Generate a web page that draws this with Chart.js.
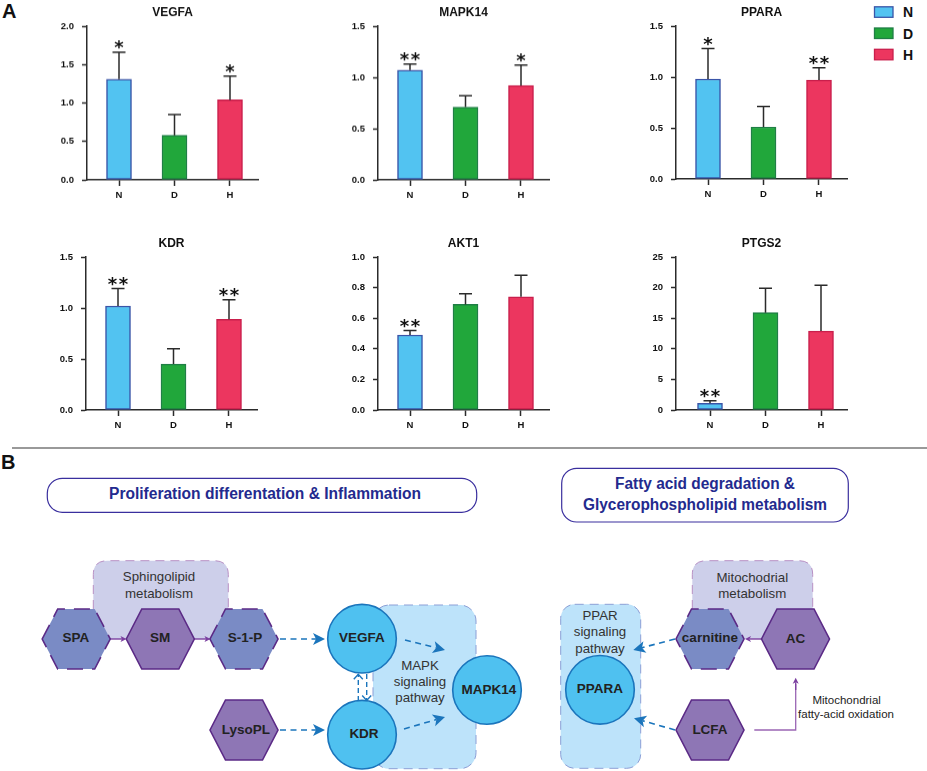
<!DOCTYPE html>
<html>
<head>
<meta charset="utf-8">
<script src="https://cdn.jsdelivr.net/npm/chart.js@4"></script>
<style>
html,body{margin:0;padding:0;background:#fff;}
#page{position:relative;width:927px;height:771px;overflow:hidden;font-family:"Liberation Sans",Arial,sans-serif;}
#page canvas{position:absolute;}
#diagram{position:absolute;left:0;top:0;}
</style>
</head>
<body>
<div id="page"><svg id="diagram" width="927" height="771" viewBox="0 0 927 771" xmlns="http://www.w3.org/2000/svg"></svg></div>
<script>
// ---- Data ----
const categories = ['N', 'D', 'H'];
const groupFill = ['#52C3F1', '#21A73B', '#EC365F'];
const groupEdge = ['#3A55A8', '#1F7F45', '#C91F4C'];

const panelNames = ['VEGFA', 'MAPK14', 'PPARA', 'KDR', 'AKT1', 'PTGS2'];

const vegfaValues = [1.31, 0.58, 1.04];
const vegfaTops   = [1.66, 0.85, 1.35];
const vegfaStars  = ['*', '', '*'];

const mapk14Values = [1.07, 0.71, 0.92];
const mapk14Tops   = [1.13, 0.82, 1.12];
const mapk14Stars  = ['**', '', '*'];

const pparaValues = [0.98, 0.51, 0.97];
const pparaTops   = [1.28, 0.71, 1.09];
const pparaStars  = ['*', '', '**'];

const kdrValues = [1.02, 0.45, 0.89];
const kdrTops   = [1.19, 0.60, 1.08];
const kdrStars  = ['**', '', '**'];

const akt1Values = [0.49, 0.69, 0.74];
const akt1Tops   = [0.52, 0.76, 0.88];
const akt1Stars  = ['**', '', ''];

const ptgs2Values = [1.1, 15.9, 12.9];
const ptgs2Tops   = [1.5, 19.9, 20.4];
const ptgs2Stars  = ['**', '', ''];

const yMaxes = [2.0, 1.5, 1.5, 1.5, 1.0, 25];
const ySteps = [0.5, 0.5, 0.5, 0.5, 0.2, 5];
const yDigits = [1, 1, 1, 1, 1, 0];

// ---- Panel layout (pixels on the page) ----
const axisLeft = [86.5, 378.3, 675.7, 86, 378.3, 676];
const axisTop  = [26, 26, 25.5, 256.5, 256.7, 256.7];
const firstBarOffset = [32, 32, 32, 32, 32, 34];
const barSpacing = 55.5;
const AXIS_W = 50, TITLE_H = 26, XAXIS_H = 31, PLOT_W = 171, PLOT_H = 153.7, RIGHT_PAD = 53;

const allValues = [vegfaValues, mapk14Values, pparaValues, kdrValues, akt1Values, ptgs2Values];
const allTops   = [vegfaTops, mapk14Tops, pparaTops, kdrTops, akt1Tops, ptgs2Tops];
const allStars  = [vegfaStars, mapk14Stars, pparaStars, kdrStars, akt1Stars, ptgs2Stars];

const errorBarPlugin = {
  id: 'errorBars',
  afterDatasetsDraw(chart, args, opts) {
    const { ctx, scales: { x, y } } = chart;
    ctx.save();
    opts.tops.forEach((top, i) => {
      const px = x.getPixelForValue(i);
      const py0 = y.getPixelForValue(opts.values[i]);
      const py1 = y.getPixelForValue(top);
      ctx.strokeStyle = '#2b2b2b';
      ctx.lineWidth = 1.5;
      ctx.beginPath();
      ctx.moveTo(px, py0); ctx.lineTo(px, py1);
      ctx.moveTo(px - 6.5, py1); ctx.lineTo(px + 6.5, py1);
      ctx.stroke();
      const marks = opts.stars[i];
      ctx.fillStyle = '#111';
      ctx.font = 'bold 18px "DejaVu Sans"';
      ctx.textAlign = 'center';
      ctx.textBaseline = 'alphabetic';
      for (let k = 0; k < marks.length; k++) {
        const dx = (k - (marks.length - 1) / 2) * 11;
        ctx.fillText(marks[k], px + dx, py1 + 1.2);
      }
    });
    ctx.restore();
  }
};

panelNames.forEach((name, p) => {
  const canvas = document.createElement('canvas');
  const w = AXIS_W + PLOT_W + RIGHT_PAD, h = TITLE_H + PLOT_H + XAXIS_H;
  canvas.width = w; canvas.height = h;
  canvas.style.left = (axisLeft[p] - AXIS_W) + 'px';
  canvas.style.top = (axisTop[p] - TITLE_H) + 'px';
  canvas.style.width = w + 'px';
  canvas.style.height = h + 'px';
  document.getElementById('page').appendChild(canvas);
  const xMin = -firstBarOffset[p] / barSpacing;
  new Chart(canvas, {
    type: 'bar',
    data: {
      datasets: [{
        label: name,
        data: allValues[p].map((v, i) => ({ x: i, y: v })),
        backgroundColor: groupFill,
        borderColor: groupEdge,
        borderWidth: 1.5,
        borderSkipped: false,
        barThickness: 25
      }]
    },
    options: {
      responsive: false,
      animation: false,
      devicePixelRatio: 1,
      layout: { padding: { left: 0, right: RIGHT_PAD, top: 0, bottom: 0 } },
      plugins: {
        legend: { display: false },
        tooltip: { enabled: false },
        title: {
          display: true, text: name, color: '#111', fullSize: false,
          font: { family: '"Liberation Sans"', size: 12, weight: 'bold', lineHeight: 1 },
          padding: { top: 7, bottom: 7 }
        },
        errorBars: { values: allValues[p], tops: allTops[p], stars: allStars[p] }
      },
      scales: {
        x: {
          type: 'linear', offset: false,
          min: xMin, max: xMin + PLOT_W / barSpacing,
          afterFit(s) { s.height = XAXIS_H; },
          afterBuildTicks(s) { s.ticks = categories.map((c, i) => ({ value: i })); },
          grid: { drawOnChartArea: false, offset: false, drawTicks: true, tickLength: 6, tickColor: '#2b2b2b', tickWidth: 1.5 },
          border: { color: '#2b2b2b', width: 1.5 },
          ticks: {
            autoSkip: false, maxRotation: 0, minRotation: 0, padding: 4, color: '#111',
            font: { family: '"Liberation Sans"', size: 9.5, weight: 'bold' },
            callback: v => categories[v]
          }
        },
        y: {
          min: 0, max: yMaxes[p],
          afterFit(s) { s.width = AXIS_W; },
          grid: { drawOnChartArea: false, drawTicks: true, tickLength: 5, tickColor: '#2b2b2b', tickWidth: 1.5 },
          border: { color: '#2b2b2b', width: 1.5 },
          ticks: {
            stepSize: ySteps[p], padding: 8, color: '#111',
            font: { family: '"Liberation Sans"', size: 9.5, weight: 'bold' },
            callback: v => v.toFixed(yDigits[p])
          }
        }
      }
    },
    plugins: [errorBarPlugin]
  });
});

// ---- Pathway diagram and legend (SVG, real text) ----
const NAVY = '#232A8E', BOX = '#3A2F9E', PUR = '#5B2A86', ARW = '#1B75BC';
const HEX_BLUE = '#7A8BC5', HEX_PUR = '#8E76B5', CIRC = '#4FC1F0';
const REGION_BLUE = '#BDE3FA', REGION_PUR = '#CDCFEA';
const FF = '"Liberation Sans",Arial,sans-serif';

const hexNodes = [
  ['SPA', 76.2, 639, true, 76, 637.5], ['SM', 160.3, 639, false, 160, 637.5], ['S-1-P', 244, 639, true, 245, 637.5],
  ['LysoPL', 244, 730, false, 246, 729.5], ['carnitine', 710, 639, true, 710, 637.5], ['AC', 795.5, 639, false, 795.5, 638.5],
  ['LCFA', 710, 730, false, 710, 729.5]
];
const circleNodes = [
  ['VEGFA', 362, 638.7, 362, 637.5], ['KDR', 362, 734.7, 364, 733.5], ['MAPK14', 487, 690, 489, 689], ['PPARA', 600, 689.8, 600, 688.5]
];
const labelLines = [
  ['Sphingolipid', 159, 576.7], ['metabolism', 159, 593.3],
  ['MAPK', 420, 665.7], ['signaling', 420, 681.7], ['pathway', 420, 697.7],
  ['PPAR', 600, 615], ['signaling', 600, 631.7], ['pathway', 600, 648],
  ['Mitochodrial', 752.3, 577], ['metabolism', 752.3, 593.3]
];

function esc(s) { return s.replace(/&/g, '&amp;'); }
function txt(s, x, y, size, weight, color, extra) {
  return `<text x="${x}" y="${y}" font-family='${FF}' font-size="${size}" font-weight="${weight}" fill="${color}" text-anchor="middle" dominant-baseline="central" ${extra || ''}>${esc(s)}</text>`;
}
function hex(cx, cy, fill, dashed) {
  const a = 34, b = 30, t = 18.5;
  const pts = [[cx - a, cy], [cx - t, cy - b], [cx + t, cy - b], [cx + a, cy], [cx + t, cy + b], [cx - t, cy + b]].map(q => q.join(',')).join(' ');
  return `<polygon points="${pts}" fill="${fill}" stroke="${PUR}" stroke-width="1.6" ${dashed ? 'stroke-dasharray="16 9"' : ''}/>`;
}
function topRound(x1, x2, y1, y2, r, fill, stroke) {
  return `<path d="M${x1} ${y2}V${y1 + r}Q${x1} ${y1} ${x1 + r} ${y1}H${x2 - r}Q${x2} ${y1} ${x2} ${y1 + r}V${y2}" fill="${fill}" stroke="${stroke}" stroke-width="1" stroke-dasharray="9 6"/>`;
}
function arrow(x1, y1, x2, y2, color, len, hw, dash, sw, open) {
  const d = Math.hypot(x2 - x1, y2 - y1), ux = (x2 - x1) / d, uy = (y2 - y1) / d;
  const nx = -uy, ny = ux;
  const bx = x2 - ux * len, by = y2 - uy * len;
  const nb = open ? len : len * 0.75;
  const ex = x2 - ux * nb, ey = y2 - uy * nb;
  let out = `<line x1="${x1}" y1="${y1}" x2="${open ? x2 : ex}" y2="${open ? y2 : ey}" stroke="${color}" stroke-width="${sw}" ${dash ? `stroke-dasharray="${dash}"` : ''}/>`;
  if (open) {
    out += `<polyline points="${bx + nx * hw},${by + ny * hw} ${x2},${y2} ${bx - nx * hw},${by - ny * hw}" fill="none" stroke="${color}" stroke-width="${sw}"/>`;
  } else {
    out += `<polygon points="${x2},${y2} ${bx + nx * hw},${by + ny * hw} ${ex},${ey} ${bx - nx * hw},${by - ny * hw}" fill="${color}"/>`;
  }
  return out;
}

let s = '';
// legend
categories.forEach((c, i) => {
  const yy = [6.8, 28, 49.3][i];
  s += `<rect x="874.5" y="${yy}" width="18.5" height="10.5" fill="${groupFill[i]}" stroke="${groupEdge[i]}" stroke-width="1.3"/>`;
  s += `<text x="903" y="${yy + 5.5}" font-family='${FF}' font-size="14" font-weight="bold" fill="#111" dominant-baseline="central">${c}</text>`;
});
// panel letters & separator
s += `<text x="2" y="17.5" font-family='${FF}' font-size="20" font-weight="bold" fill="#111">A</text>`;
s += `<text x="1" y="469" font-family='${FF}' font-size="20" font-weight="bold" fill="#111">B</text>`;
s += `<line x1="12" y1="448" x2="927" y2="448" stroke="#777" stroke-width="1.4"/>`;
// heading boxes
s += `<rect x="47.3" y="478.3" width="429.4" height="34" rx="15" fill="#fff" stroke="${BOX}" stroke-width="1.2"/>`;
s += txt('Proliferation differentation & Inflammation', 265, 493.5, 16, 'bold', NAVY, 'textLength="312" lengthAdjust="spacingAndGlyphs"');
s += `<rect x="561.7" y="468.3" width="286.6" height="53.7" rx="15" fill="#fff" stroke="${BOX}" stroke-width="1.2"/>`;
s += txt('Fatty acid degradation &', 705, 483.5, 16, 'bold', NAVY, 'textLength="180" lengthAdjust="spacingAndGlyphs"');
s += txt('Glycerophospholipid metabolism', 705, 504.5, 16, 'bold', NAVY, 'textLength="244" lengthAdjust="spacingAndGlyphs"');
// regions
s += topRound(93.3, 228.3, 560.7, 639, 14, REGION_PUR, '#B890C4');
s += topRound(692.3, 812.7, 560.7, 639, 14, REGION_PUR, '#B890C4');
s += `<rect x="373" y="605" width="103" height="163.7" rx="16" fill="${REGION_BLUE}" stroke="#8C9FD6" stroke-width="1" stroke-dasharray="9 6"/>`;
s += `<rect x="560.7" y="604.3" width="80" height="164" rx="14" fill="${REGION_BLUE}" stroke="#8C9FD6" stroke-width="1" stroke-dasharray="9 6"/>`;
labelLines.forEach(l => { s += txt(l[0], l[1], l[2], 13.3, 'normal', '#333'); });
s += txt('Mitochondrial', 846.7, 700, 11.5, 'normal', '#222');
s += txt('fatty-acid oxidation', 846, 714, 11.5, 'normal', '#222');
// purple arrows
const VIO = '#9A66B4', VIOH = '#7B3FA0';
s += arrow(110, 639, 126.5, 639, VIOH, 6, 3, '', 1.4);
s += arrow(194, 639, 210.5, 639, VIOH, 6, 3, '', 1.4);
s += arrow(762, 639, 745, 639, VIOH, 6, 3, '', 1.4);
s += `<polyline points="754.3,730 795.7,730 795.7,684" fill="none" stroke="${VIO}" stroke-width="1.3"/>`;
s += arrow(795.7, 690, 795.7, 677.7, VIOH, 6, 3, '', 1.3);
// blue arrows
const D = '6 4.5';
s += arrow(280, 639, 325, 639, ARW, 12, 6, D, 1.6);
s += arrow(280, 730, 325, 730, ARW, 12, 6, D, 1.6);
s += arrow(405, 640, 445, 650, ARW, 12, 6, D, 1.6);
s += arrow(404, 729, 445, 717, ARW, 12, 6, D, 1.6);
s += arrow(675, 639, 633.3, 650, ARW, 12, 6, D, 1.6);
s += arrow(675, 730, 634, 718.3, ARW, 12, 6, D, 1.6);
s += arrow(358.3, 701, 358.3, 674.3, ARW, 5, 4.5, '5 3', 1.4, true);
s += arrow(366.7, 674, 366.7, 700.5, ARW, 5, 4.5, '5 3', 1.4, true);
// nodes
hexNodes.forEach(n => { s += hex(n[1], n[2], n[3] ? HEX_BLUE : HEX_PUR, n[3]); });
circleNodes.forEach(n => { s += `<circle cx="${n[1]}" cy="${n[2]}" r="34.3" fill="${CIRC}" stroke="${ARW}" stroke-width="1.6"/>`; });
hexNodes.forEach(n => { s += txt(n[0], n[4], n[5], 13.5, 'bold', '#222'); });
circleNodes.forEach(n => { s += txt(n[0], n[3], n[4], 13.5, 'bold', '#222'); });
document.getElementById('diagram').innerHTML = s;
</script>
</body>
</html>
